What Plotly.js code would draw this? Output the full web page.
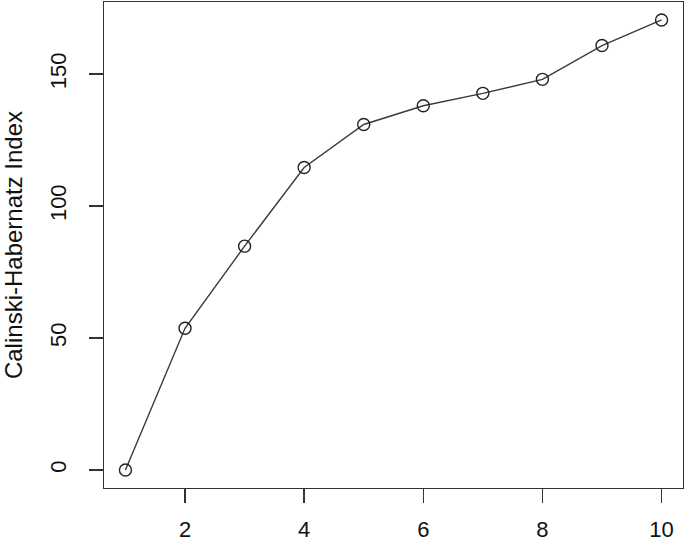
<!DOCTYPE html>
<html>
<head>
<meta charset="utf-8">
<script src="https://cdn.plot.ly/plotly-3.0.1.min.js"></script>
<style>
  html, body { margin: 0; padding: 0; background: #fff; }
  #plot { width: 685px; height: 541px; }
</style>
</head>
<body>
<div id="plot"></div>
<script>
// Anzahl Cluster und Calinski-Harabasz-Werte
const clusters = [1, 2, 3, 4, 5, 6, 7, 8, 9, 10];
const chIndex = [0, 53.7, 84.8, 114.6, 130.9, 138.0, 142.7, 148.0, 160.8, 170.5];

const xTicks = [2, 4, 6, 8, 10];
const yTicks = [0, 50, 100, 150];

const trace = {
    x: clusters,
    y: chIndex,
    type: "scatter",
    mode: "lines+markers",
    line: { color: "#3a3a3a", width: 1.4 },
    marker: {
        symbol: "circle-open",
        size: 12,
        color: "#222",
        line: { width: 1.4, color: "#222" },
    },
    showlegend: false,
    hoverinfo: "x+y",
};

const tickFont = { family: "Liberation Sans, Arial, sans-serif", size: 22, color: "#111" };
const titleFont = { family: "Liberation Sans, Arial, sans-serif", size: 24, color: "#111" };

const layout = {
    width: 685,
    height: 541,
    margin: { l: 104, r: 2, t: 2, b: 53 },
    paper_bgcolor: "#fff",
    plot_bgcolor: "#fff",
    font: tickFont,
    xaxis: {
        range: [0.64, 10.36],
        tickvals: xTicks,
        ticks: "outside",
        ticklen: 14,
        tickwidth: 1.3,
        tickcolor: "#333",
        showgrid: false,
        zeroline: false,
        showline: true,
        mirror: true,
        linecolor: "#333",
        linewidth: 1.3,
        ticklabelstandoff: 7,
        tickfont: tickFont,
    },
    yaxis: {
        range: [-6.82, 177.3],
        tickvals: yTicks,
        ticks: "outside",
        ticklen: 14,
        tickwidth: 1.3,
        tickcolor: "#333",
        tickangle: -90,
        showgrid: false,
        zeroline: false,
        showline: true,
        mirror: true,
        linecolor: "#333",
        linewidth: 1.3,
        ticklabelstandoff: 14,
        tickfont: tickFont,
        title: { text: "Calinski-Habernatz Index", font: titleFont, standoff: 22 },
    },
};

Plotly.newPlot("plot", [trace], layout, { displayModeBar: false, staticPlot: true });
</script>
</body>
</html>
